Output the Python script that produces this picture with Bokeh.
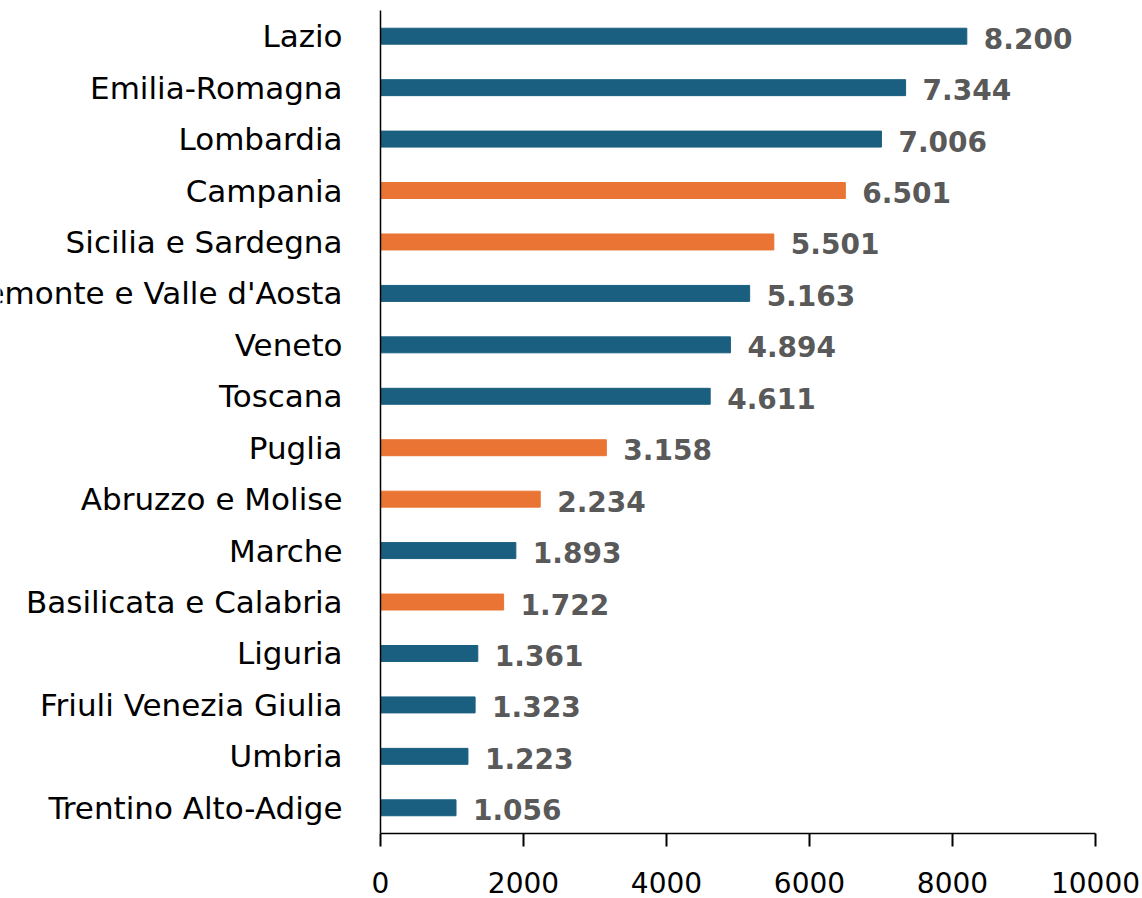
from bokeh.plotting import figure
from bokeh.layouts import row
from bokeh.models import ColumnDataSource, LabelSet, Range1d, FixedTicker
from bokeh.core.properties import value
from bokeh.embed import file_html
from bokeh.resources import INLINE

regions = ["Lazio", "Emilia-Romagna", "Lombardia", "Campania", "Sicilia e Sardegna",
           "Piemonte e Valle d'Aosta", "Veneto", "Toscana", "Puglia", "Abruzzo e Molise",
           "Marche", "Basilicata e Calabria", "Liguria", "Friuli Venezia Giulia",
           "Umbria", "Trentino Alto-Adige"]
values = [8200, 7344, 7006, 6501, 5501, 5163, 4894, 4611, 3158, 2234,
          1893, 1722, 1361, 1323, 1223, 1056]
south = [False, False, False, True, True, False, False, False, True, True,
         False, True, False, False, False, False]
x_ticks = [0, 2000, 4000, 6000, 8000, 10000]

BLUE = "#1a5f7f"
ORANGE = "#e97434"

n = len(regions)
ypos = [n - 1 - i for i in range(n)]
labels = [f"{v:,}".replace(",", ".") for v in values]
colors = [ORANGE if s else BLUE for s in south]

src = ColumnDataSource(dict(region=regions, value=values, y=ypos, label=labels, color=colors,
                            edge=[1] * n))

FONT = "DejaVu Sans"

yr = Range1d(-0.5, n - 0.5)
LEFT_W = 370

# left panel with category names (clipped at the page edge, as in the reference)
lp = figure(width=LEFT_W, height=898, output_backend="svg", toolbar_location=None,
            x_range=Range1d(0, 1), y_range=yr,
            min_border_left=0, min_border_right=0, min_border_top=10, min_border_bottom=65)
lp.outline_line_color = None
lp.axis.visible = False
lp.grid.visible = False
lp.text(x="edge", y="y", text="region", source=src, x_offset=-28, text_align="right",
        text_baseline="middle", text_font=value(FONT), text_font_size="31px",
        text_color="#000000")

p = figure(width=1142 - LEFT_W, height=898, output_backend="svg", toolbar_location=None,
           x_range=Range1d(0, 10000), y_range=yr,
           min_border_left=10, min_border_right=47, min_border_top=10, min_border_bottom=65)
p.outline_line_color = None
p.xgrid.visible = False
p.ygrid.visible = False

p.hbar(y="y", right="value", left=0, height=0.31, color="color", source=src)

vals = LabelSet(x="value", y="y", text="label", source=src, x_offset=17, y_offset=-2,
                text_align="left", text_baseline="middle", text_font=value(FONT),
                text_font_style="bold", text_font_size="28px", text_color="#595959")
p.add_layout(vals)

p.xaxis.ticker = FixedTicker(ticks=x_ticks)
p.xaxis.minor_tick_line_color = None
p.xaxis.major_tick_out = 13
p.xaxis.major_tick_in = 0
p.xaxis.major_tick_line_width = 2
p.xaxis.axis_line_width = 1.5
p.xaxis.axis_line_color = "#000000"
p.xaxis.major_tick_line_color = "#000000"
p.xaxis.major_label_text_font = FONT
p.xaxis.major_label_text_font_size = "28px"
p.xaxis.major_label_text_color = "#000000"
p.xaxis.major_label_standoff = 25

p.yaxis.ticker = FixedTicker(ticks=[])
p.yaxis.major_tick_line_color = None
p.yaxis.minor_tick_line_color = None
p.yaxis.axis_line_width = 1.5
p.yaxis.axis_line_color = "#000000"

layout = row(lp, p)
open("out.html", "w").write(file_html(layout, INLINE))
